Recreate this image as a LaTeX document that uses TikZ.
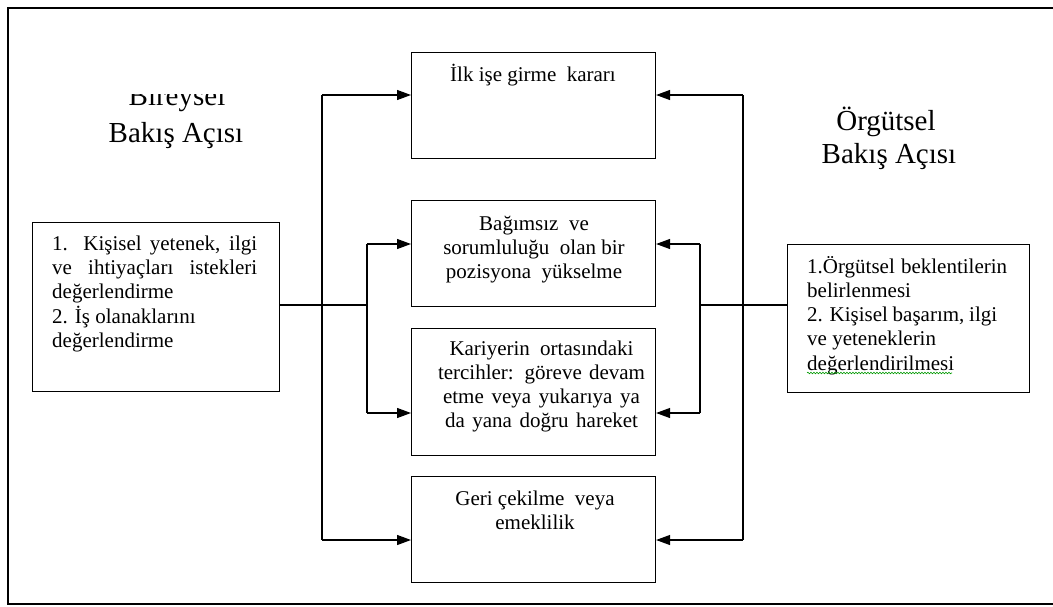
\documentclass[tikz,border=0pt]{standalone}
\usepackage{fontspec}
\setmainfont{Liberation Serif}
\usetikzlibrary{arrows.meta,decorations.pathmorphing}
\tikzset{
  box/.style={draw=black,line width=1.1pt,inner sep=0pt,anchor=north west},
  txt/.style={inner sep=0pt,font=\fontsize{21}{24.3}\selectfont},
  ttl/.style={inner sep=0pt,anchor=base,font=\fontsize{29}{33}\selectfont},
  link/.style={draw=black,line width=1.2pt},
  arr/.style={link,-{Triangle[length=14pt,width=10pt]}}
}
\begin{document}
\begin{tikzpicture}[x=1pt,y=-1pt]
\useasboundingbox (0,0) rectangle (1053,606);
\draw[line width=2pt] (1053,8) -- (7.5,8) -- (7.5,603.5) -- (1053,603.5);

% boxes
\node[box,minimum width=244pt,minimum height=106pt] (b1) at (411,52) {};
\node[box,minimum width=244pt,minimum height=106pt] (b2) at (411,200) {};
\node[box,minimum width=244pt,minimum height=127pt] (b3) at (411,328) {};
\node[box,minimum width=244pt,minimum height=106pt] (b4) at (411,476) {};
\node[box,minimum width=247pt,minimum height=169pt] (L) at (32,222) {};
\node[box,minimum width=242pt,minimum height=148pt] (R) at (787,244) {};

% texts
\node[txt,anchor=base] (t1) at (533,81) {\begin{tabular}[t]{@{}c@{}}İlk işe girme\ \ kararı\end{tabular}};
\node[txt,anchor=base] (t2) at (534,230) {\begin{tabular}[t]{@{}c@{}}Bağımsız\ \ ve\\ sorumluluğu\ \ olan bir\\ pozisyona\ \ yükselme\end{tabular}};
\node[txt,anchor=base] (t3) at (541.5,355) {\begin{tabular}[t]{@{}c@{}}\makebox[184pt][s]{Kariyerin ortasındaki}\\ \makebox[207pt][s]{tercihler: göreve devam}\\ \makebox[197pt][s]{etme veya yukarıya ya}\\ \makebox[193pt][s]{da yana doğru hareket}\end{tabular}};
\node[txt,anchor=base] (t4) at (535,505) {\begin{tabular}[t]{@{}c@{}}Geri çekilme\ \ veya\\ emeklilik\end{tabular}};
\node[txt,anchor=base west] (tL) at (52,250) {\begin{tabular}[t]{@{}l@{}}\makebox[205pt][s]{1. Kişisel yetenek, ilgi}\\ \makebox[205pt][s]{ve ihtiyaçları istekleri}\\ değerlendirme\\ 2. İş olanaklarını\\ değerlendirme\end{tabular}};
\node[txt,anchor=base west] (tR) at (807,273) {\begin{tabular}[t]{@{}l@{}}\makebox[200pt][s]{1.Örgütsel beklentilerin}\\ belirlenmesi\\ \makebox[190pt][s]{2. Kişisel başarım, ilgi}\\ ve yeteneklerin\\ değerlendirilmesi\end{tabular}};
\draw[green!60!black,line width=0.6pt,decorate,decoration={snake,amplitude=0.8pt,segment length=3pt}] (807,373) -- (952,373);

% titles
\begin{scope}
\clip (90,94) rectangle (270,120);
\node[ttl] (ti1) at (177,105) {Bireysel};
\end{scope}
\node[ttl] (ti2) at (176,142) {Bakış Açısı};
\node[ttl] (ti3) at (886,130) {Örgütsel};
\node[ttl] (ti4) at (889,163) {Bakış Açısı};

% left connectors
\coordinate (jl) at (367,305);
\coordinate (o1) at (322,95);
\coordinate (o4) at (322,540);
\coordinate (i2) at (367,244);
\coordinate (i3) at (367,413);
\draw[link] (L.east |- jl) -- (jl);
\draw[link] (o1) -- (o4);
\draw[link] (i2) -- (i3);
\draw[arr] (o1) -- (o1 -| b1.west);
\draw[arr] (o4) -- (o4 -| b4.west);
\draw[arr] (i2) -- (i2 -| b2.west);
\draw[arr] (i3) -- (i3 -| b3.west);

% right connectors
\coordinate (jr) at (700,305);
\coordinate (p1) at (743,95);
\coordinate (p4) at (743,540);
\coordinate (q2) at (700,244);
\coordinate (q3) at (700,413);
\draw[link] (R.west |- jr) -- (jr);
\draw[link] (p1) -- (p4);
\draw[link] (q2) -- (q3);
\draw[arr] (p1) -- (p1 -| b1.east);
\draw[arr] (p4) -- (p4 -| b4.east);
\draw[arr] (q2) -- (q2 -| b2.east);
\draw[arr] (q3) -- (q3 -| b3.east);
\end{tikzpicture}
\end{document}
